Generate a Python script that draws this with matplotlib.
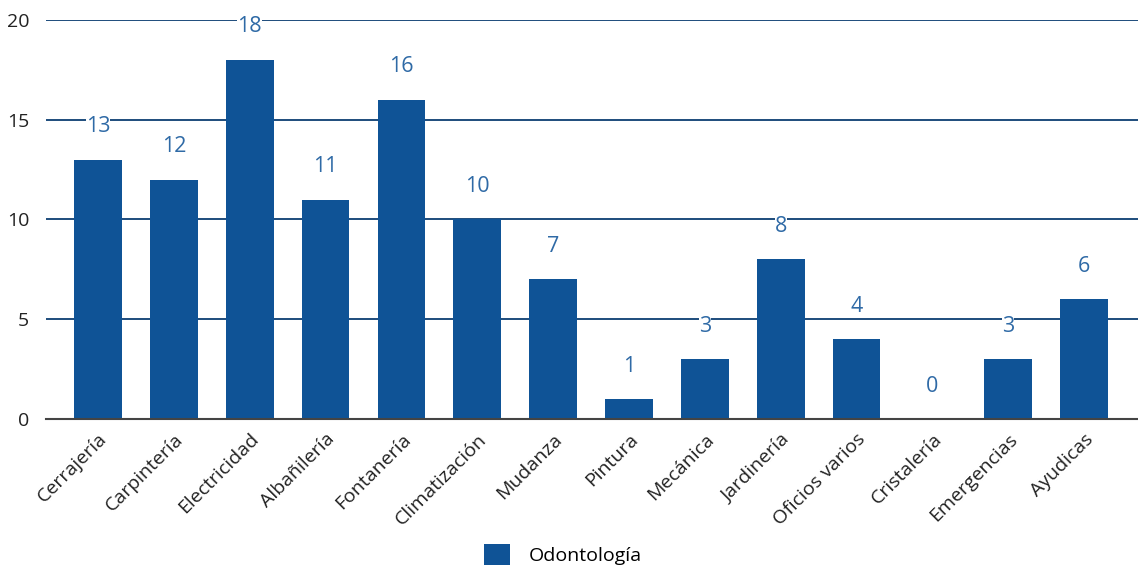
import numpy as np
import matplotlib.pyplot as plt
from matplotlib.patches import Patch

categories = ['Cerrajería', 'Carpintería', 'Electricidad', 'Albañilería', 'Fontanería',
              'Climatización', 'Mudanza', 'Pintura', 'Mecánica', 'Jardinería',
              'Oficios varios', 'Cristalería', 'Emergencias', 'Ayudicas']
values = [13, 12, 18, 11, 16, 10, 7, 1, 3, 8, 4, 0, 3, 6]
series_name = 'Odontología'
yticks = [0, 5, 10, 15, 20]

plt.rcParams['font.family'] = ['Open Sans', 'DejaVu Sans']

bar_color = '#0f5396'
label_color = '#2f6aa6'
grid_color = '#0c3e72'

fig = plt.figure(figsize=(11.38, 5.66), dpi=100)
ax = fig.add_axes([46 / 1138, 1 - 419 / 566, 1 - 46 / 1138, 399 / 566])

x = np.arange(len(categories))
ax.bar(x, values, width=0.63, color=bar_color, zorder=3)

# value labels with a white backing, as in the original the gridline breaks behind them
for xi, v in zip(x, values):
    ax.text(xi, v + 1.65, str(v), ha='center', va='center', fontsize=15.5,
            color=label_color, zorder=4,
            bbox=dict(boxstyle='square,pad=0.0', facecolor='white', edgecolor='none'))

ax.set_xlim(-0.686, 13.71)
ax.set_ylim(0, 20)
ax.set_yticks(yticks)
ax.set_yticklabels([str(t) for t in yticks], fontsize=14, color='#222222')
ax.yaxis.grid(True, color=grid_color, linewidth=1.3, zorder=0)
ax.set_axisbelow(True)
ax.tick_params(axis='y', length=0, pad=12)
ax.tick_params(axis='x', length=0, pad=8)
ax.set_xticks(x)
ax.set_xticklabels(categories, rotation=45, ha='right', rotation_mode='anchor',
                   fontsize=14, color='#222222')

for side in ['top', 'right', 'left']:
    ax.spines[side].set_visible(False)
ax.spines['bottom'].set_color('#444444')
ax.spines['bottom'].set_linewidth(1.5)
ax.spines['bottom'].set_zorder(5)

handle = Patch(facecolor=bar_color, edgecolor='none')
fig.legend([handle], [series_name], loc='lower center', bbox_to_anchor=(0.495, -0.03),
           frameon=False, fontsize=14, handlelength=1.3, handleheight=1.3, handletextpad=1.0)

fig.savefig('out.png', dpi=100)
